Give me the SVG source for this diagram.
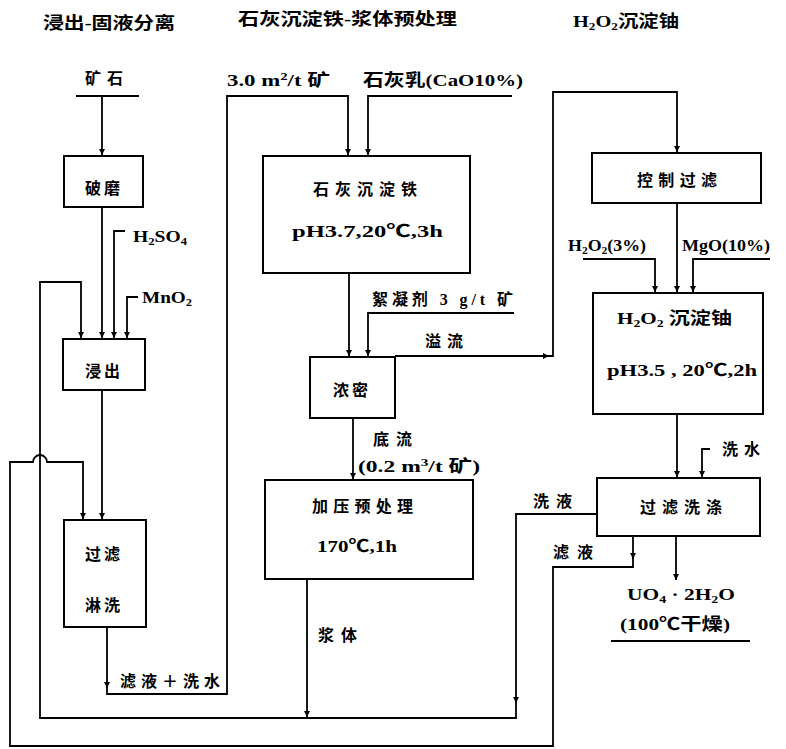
<svg xmlns="http://www.w3.org/2000/svg" width="786" height="749" viewBox="0 0 786 749">
<style>
  .bg { fill: #ffffff; }
  .box { fill: none; stroke: #000; stroke-width: 2; }
  .ln { fill: none; stroke: #000; stroke-width: 1.8; }
  .t { font-family: "Liberation Serif", "Noto Sans CJK SC", serif; font-size: 16px; font-weight: bold; fill: #000; }
  .l { font-family: "Liberation Serif", "Noto Sans CJK SC", serif; font-size: 17px; font-weight: 600; fill: #000; }
  .title { font-family: "Liberation Serif", "Noto Sans CJK SC", serif; font-size: 17px; font-weight: bold; fill: #000; }
  .s { font-size: 11px; }
</style>
<defs>
  <marker id="arr" viewBox="0 0 10 10" refX="10" refY="5" markerWidth="6" markerHeight="9" markerUnits="userSpaceOnUse" orient="auto">
    <path d="M0,0 L10,5 L0,10 Z" fill="#000"/>
  </marker>
</defs>
<rect class="bg" x="0" y="0" width="786" height="749"/>

<!-- titles -->
<text class="title" x="43" y="29" textLength="132" lengthAdjust="spacingAndGlyphs">浸出-固液分离</text>
<text class="title" x="238" y="25" textLength="219" lengthAdjust="spacingAndGlyphs">石灰沉淀铁-浆体预处理</text>
<text class="title" x="573" y="27" textLength="106" lengthAdjust="spacingAndGlyphs">H<tspan class="s" dy="3">2</tspan><tspan dy="-3">O</tspan><tspan class="s" dy="3">2</tspan><tspan dy="-3">沉淀铀</tspan></text>

<!-- nodes -->
<g id="n-pomo">
  <rect class="box" x="64" y="156" width="79" height="51"/>
  <text class="t" x="104" y="194" text-anchor="middle" letter-spacing="3">破磨</text>
</g>
<g id="n-jinchu">
  <rect class="box" x="63" y="339" width="82" height="51"/>
  <text class="t" x="104" y="377" text-anchor="middle" letter-spacing="3">浸出</text>
</g>
<g id="n-guolv-linxi">
  <rect class="box" x="64" y="520" width="82" height="107"/>
  <text class="t" x="104" y="560" text-anchor="middle" letter-spacing="3">过滤</text>
  <text class="t" x="104" y="611" text-anchor="middle" letter-spacing="3">淋洗</text>
</g>
<g id="n-shihui">
  <rect class="box" x="263" y="156" width="207" height="117"/>
  <text class="t" x="313" y="195" textLength="104" lengthAdjust="spacing">石灰沉淀铁</text>
  <text class="l" x="292" y="237" textLength="151" lengthAdjust="spacingAndGlyphs">pH3.7,20℃,3h</text>
</g>
<g id="n-nongmi">
  <rect class="box" x="310" y="357" width="85" height="61"/>
  <text class="t" x="352" y="396" text-anchor="middle" letter-spacing="3">浓密</text>
</g>
<g id="n-jiaya">
  <rect class="box" x="265" y="480" width="208" height="99"/>
  <text class="t" x="312" y="512" textLength="101" lengthAdjust="spacing">加压预处理</text>
  <text class="l" x="317" y="552" textLength="80" lengthAdjust="spacingAndGlyphs">170℃,1h</text>
</g>
<g id="n-kongzhi">
  <rect class="box" x="592" y="153" width="169" height="50"/>
  <text class="t" x="637" y="186" textLength="80" lengthAdjust="spacing">控制过滤</text>
</g>
<g id="n-h2o2">
  <rect class="box" x="593" y="293" width="170" height="121"/>
  <text class="l" x="617" y="324" textLength="115" lengthAdjust="spacingAndGlyphs">H<tspan class="s" dy="3">2</tspan><tspan dy="-3">O</tspan><tspan class="s" dy="3">2</tspan><tspan dy="-3"> 沉淀铀</tspan></text>
  <text class="l" x="607" y="376" textLength="150" lengthAdjust="spacingAndGlyphs">pH3.5 , 20℃,2h</text>
</g>
<g id="n-guolv-xidi">
  <rect class="box" x="597" y="478" width="163" height="58"/>
  <text class="t" x="640" y="513" textLength="82" lengthAdjust="spacing">过滤洗涤</text>
</g>

<!-- connectors -->
<g id="connectors">
  <path class="ln" d="M76,96 H139"/>
  <path class="ln" d="M102,96 V155" marker-end="url(#arr)"/>
  <path class="ln" d="M102,207 V338" marker-end="url(#arr)"/>
  <path class="ln" d="M125,231 H114 V338" marker-end="url(#arr)"/>
  <path class="ln" d="M138,297 H127 V338" marker-end="url(#arr)"/>
  <!-- return to leaching -->
  <path class="ln" d="M597,514 H516 V703" marker-end="url(#arr)"/>
  <path class="ln" d="M516,700 V718 H40 V282 H81 V338" marker-end="url(#arr)"/>
  <path class="ln" d="M307,579 V717" marker-end="url(#arr)"/>
  <!-- leach to filter -->
  <path class="ln" d="M102,390 V519" marker-end="url(#arr)"/>
  <!-- filtrate loop from U filter -->
  <path class="ln" d="M633,536 V559" marker-end="url(#arr)"/>
  <path class="ln" d="M633,556 V567 H553 V746 H10 V462 H33 A7,7 0 0 1 47,462 H83 V519" marker-end="url(#arr)"/>
  <!-- filtrate + wash water -->
  <path class="ln" d="M107,627 V688" marker-end="url(#arr)"/>
  <path class="ln" d="M107,686 V694 H227 V96 H348 V155" marker-end="url(#arr)"/>
  <path class="ln" d="M512,96 H368 V155" marker-end="url(#arr)"/>
  <path class="ln" d="M349,273 V356" marker-end="url(#arr)"/>
  <path class="ln" d="M514,313 H368 V356" marker-end="url(#arr)"/>
  <path class="ln" d="M395,356 H549" marker-end="url(#arr)"/>
  <path class="ln" d="M547,356 H553 V92 H677 V152" marker-end="url(#arr)"/>
  <path class="ln" d="M353,418 V479" marker-end="url(#arr)"/>
  <path class="ln" d="M677,203 V292" marker-end="url(#arr)"/>
  <path class="ln" d="M583,259 H655 V292" marker-end="url(#arr)"/>
  <path class="ln" d="M770,259 H693 V292" marker-end="url(#arr)"/>
  <path class="ln" d="M677,414 V477" marker-end="url(#arr)"/>
  <path class="ln" d="M710,449 H702 V477" marker-end="url(#arr)"/>
  <path class="ln" d="M676,536 V580" marker-end="url(#arr)"/>
  <path class="ln" d="M611,641 H750"/>
</g>

<!-- labels -->
<text class="t" x="85" y="84" textLength="38" lengthAdjust="spacing">矿石</text>
<text class="l" x="133" y="242" textLength="54" lengthAdjust="spacingAndGlyphs">H<tspan class="s" dy="3">2</tspan><tspan dy="-3">SO</tspan><tspan class="s" dy="3">4</tspan></text>
<text class="l" x="142" y="303" textLength="50" lengthAdjust="spacingAndGlyphs">MnO<tspan class="s" dy="3">2</tspan></text>
<text class="t" x="120" y="687" textLength="100" lengthAdjust="spacing">滤液＋洗水</text>
<text class="l" x="227" y="86" textLength="103" lengthAdjust="spacingAndGlyphs">3.0 m<tspan class="s" dy="-6">2</tspan><tspan dy="6">/t 矿</tspan></text>
<text class="l" x="363" y="86" textLength="160" lengthAdjust="spacingAndGlyphs">石灰乳(CaO10%)</text>
<text class="t" x="372" y="305" textLength="141" lengthAdjust="spacing">絮凝剂 3 g/t 矿</text>
<text class="t" x="425" y="347" textLength="38" lengthAdjust="spacing">溢流</text>
<text class="t" x="373" y="445" textLength="39" lengthAdjust="spacing">底流</text>
<text class="l" x="358" y="472" textLength="122" lengthAdjust="spacingAndGlyphs">(0.2 m<tspan class="s" dy="-6">3</tspan><tspan dy="6">/t 矿)</tspan></text>
<text class="t" x="318" y="641" textLength="39" lengthAdjust="spacing">浆体</text>
<text class="l" x="568" y="251" textLength="78" lengthAdjust="spacingAndGlyphs">H<tspan class="s" dy="3">2</tspan><tspan dy="-3">O</tspan><tspan class="s" dy="3">2</tspan><tspan dy="-3">(3%)</tspan></text>
<text class="l" x="682" y="251" textLength="88" lengthAdjust="spacingAndGlyphs">MgO(10%)</text>
<text class="t" x="722" y="455" textLength="38" lengthAdjust="spacing">洗水</text>
<text class="t" x="533" y="507" textLength="39" lengthAdjust="spacing">洗液</text>
<text class="t" x="553" y="558" textLength="40" lengthAdjust="spacing">滤液</text>
<text class="l" x="627" y="600" textLength="108" lengthAdjust="spacingAndGlyphs">UO<tspan class="s" dy="3">4</tspan><tspan dy="-3"> · 2H</tspan><tspan class="s" dy="3">2</tspan><tspan dy="-3">O</tspan></text>
<text class="l" x="620" y="630" textLength="110" lengthAdjust="spacingAndGlyphs">(100℃干燥)</text>
</svg>
